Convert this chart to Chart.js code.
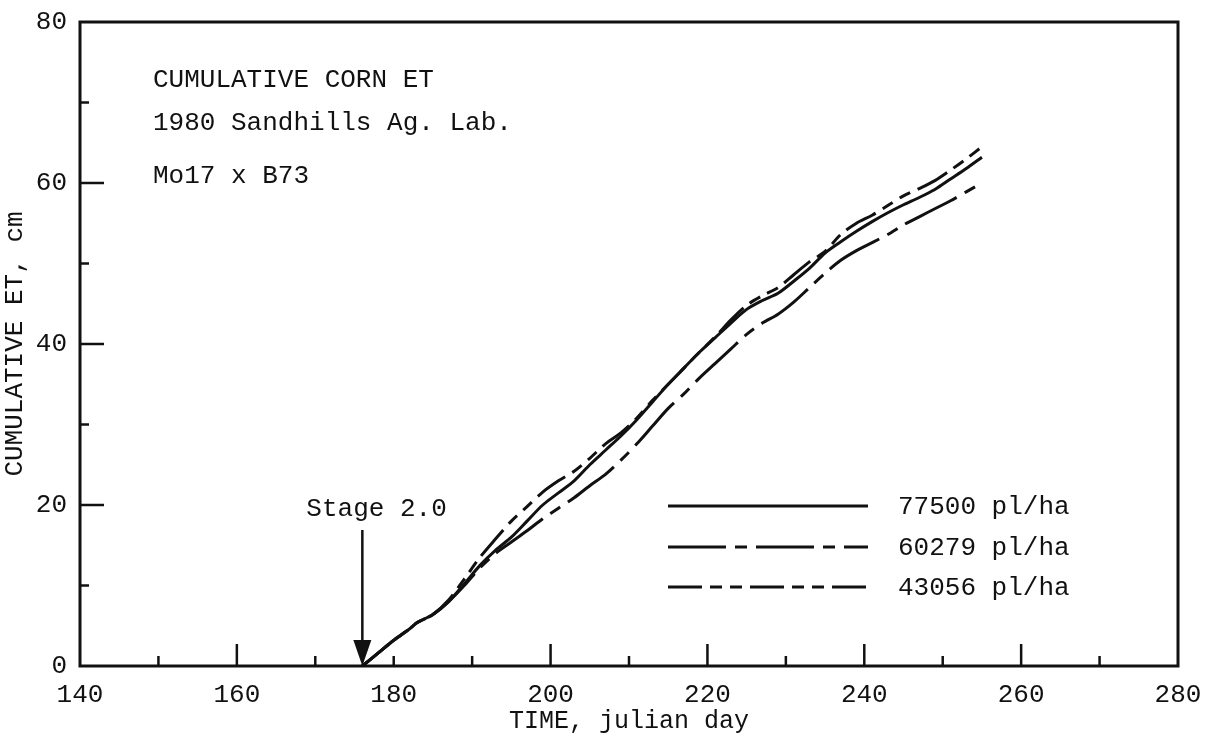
<!DOCTYPE html>
<html>
<head>
<meta charset="utf-8">
<title>Cumulative corn ET</title>
<script src="https://cdn.jsdelivr.net/npm/chart.js@4.4.1/dist/chart.umd.min.js"></script>
<style>
  html, body { margin: 0; padding: 0; background: #fff; }
  #chart-container { position: relative; width: 1212px; height: 750px; }
</style>
</head>
<body>
<div id="chart-container"><canvas id="etChart"></canvas></div>
<script>
// Julian days
const days = [176, 178, 180, 182, 183, 185, 187, 189, 191, 193, 195, 197, 199, 201, 203, 205, 207, 209, 211, 213, 215,
              217, 219, 221, 223, 225, 227, 229, 231, 233, 235, 237, 239, 241, 243, 245, 247, 249, 251, 253, 255];

// Cumulative ET (cm) for each plant population
const et77500 = [0, 1.6, 3.2, 4.6, 5.4, 6.4, 8.0, 10.2, 12.5, 14.4, 16.0, 18.0, 20.0, 21.5, 23.0, 25.0, 26.8, 28.6, 30.6, 32.8, 35.0,
                 37.0, 39.0, 40.8, 42.6, 44.3, 45.4, 46.3, 47.8, 49.4, 51.3, 52.7, 54.0, 55.2, 56.3, 57.3, 58.2, 59.2, 60.5, 61.8, 63.2];
const et60279 = [0, 1.6, 3.2, 4.6, 5.4, 6.4, 8.0, 10.0, 12.2, 14.0, 15.4, 16.8, 18.3, 19.6, 20.9, 22.4, 23.8, 25.6, 27.6, 29.8, 32.0,
                 33.8, 35.8, 37.6, 39.4, 41.2, 42.6, 43.7, 45.2, 47.0, 48.8, 50.4, 51.6, 52.6, 53.6, 54.8, 55.8, 56.8, 57.8, 58.9, 60.0];
const et43056 = [0, 1.6, 3.2, 4.6, 5.4, 6.4, 8.2, 10.8, 13.5, 15.8, 18.0, 19.8, 21.6, 23.0, 24.2, 25.8, 27.6, 29.0, 30.8, 33.0, 35.0,
                 37.0, 39.0, 40.9, 43.0, 44.8, 46.0, 47.0, 48.6, 50.2, 51.5, 53.6, 55.0, 56.0, 57.2, 58.4, 59.3, 60.3, 61.6, 63.0, 64.5];

const seriesLabels = ['77500 pl/ha', '60279 pl/ha', '43056 pl/ha'];
const infoLines = ['CUMULATIVE CORN ET', '1980 Sandhills Ag. Lab.', 'Mo17 x B73'];
const stageDay = 176;
const stageLabel = 'Stage 2.0';

const xMajorTicks = [160, 200, 220, 240, 260];
const xMinorTicks = [150, 170, 180, 190, 210, 230, 250, 270];
const yMajorTicks = [20, 40, 60];
const yMinorTicks = [10, 30, 50, 70];

const ink = '#111';
const monoFamily = '"Liberation Mono", monospace';
const textFont = '26px "Liberation Mono", monospace';
const dashes = [[], [58, 9, 12, 9], [34, 8, 12, 8, 12, 8]];

function toPoints(values) {
    return values.map(function(v, i) { return { x: days[i], y: v }; });
}

// Frame, inward ticks, notes, arrow and legend drawn on top of the chart
const paperDecor = {
    id: 'paperDecor',
    afterDraw: function(chart) {
        const c = chart.ctx;
        const area = chart.chartArea;
        const xs = chart.scales.x;
        const ys = chart.scales.y;
        c.save();
        c.strokeStyle = ink;
        c.fillStyle = ink;
        c.lineCap = 'butt';

        // frame
        c.lineWidth = 3;
        c.strokeRect(area.left, area.top, area.right - area.left, area.bottom - area.top);

        // ticks pointing into the plot
        c.lineWidth = 2.5;
        function xTick(d, len) {
            const px = xs.getPixelForValue(d);
            c.beginPath(); c.moveTo(px, area.bottom); c.lineTo(px, area.bottom - len); c.stroke();
        }
        function yTick(v, len) {
            const py = ys.getPixelForValue(v);
            c.beginPath(); c.moveTo(area.left, py); c.lineTo(area.left + len, py); c.stroke();
        }
        xMajorTicks.forEach(function(d) { xTick(d, 22); });
        xMinorTicks.forEach(function(d) { xTick(d, 10); });
        yMajorTicks.forEach(function(v) { yTick(v, 24); });
        yMinorTicks.forEach(function(v) { yTick(v, 9); });

        // notes in upper left
        c.font = textFont;
        c.textAlign = 'left';
        c.textBaseline = 'alphabetic';
        const noteY = [87, 130, 183];
        infoLines.forEach(function(t, i) { c.fillText(t, area.left + 73, noteY[i]); });

        // Stage 2.0 arrow
        const sx = xs.getPixelForValue(stageDay);
        c.lineWidth = 2.5;
        c.beginPath(); c.moveTo(sx, 530); c.lineTo(sx, area.bottom - 20); c.stroke();
        c.beginPath();
        c.moveTo(sx - 9, area.bottom - 26);
        c.lineTo(sx + 9, area.bottom - 26);
        c.lineTo(sx, area.bottom);
        c.closePath();
        c.fill();
        c.fillText(stageLabel, sx - 56, 516);

        // legend
        const rowY = [506, 547, 587];
        seriesLabels.forEach(function(label, i) {
            c.lineWidth = 3;
            c.setLineDash(dashes[i]);
            c.beginPath(); c.moveTo(668, rowY[i]); c.lineTo(868, rowY[i]); c.stroke();
            c.setLineDash([]);
            c.textBaseline = 'middle';
            c.fillText(label, 898, rowY[i] + 1);
        });
        c.restore();
    }
};

document.addEventListener('DOMContentLoaded', function() {
    const ctx = document.getElementById('etChart');

    new Chart(ctx, {
        type: 'line',
        data: {
            datasets: [et77500, et60279, et43056].map(function(vals, i) {
                return {
                    label: seriesLabels[i],
                    data: toPoints(vals),
                    borderColor: ink,
                    borderWidth: 3,
                    borderDash: dashes[i],
                    pointRadius: 0,
                    tension: 0.3,
                    fill: false
                };
            })
        },
        options: {
            responsive: true,
            maintainAspectRatio: false,
            animation: false,
            layout: { padding: { left: 0, right: 34, top: 22, bottom: 0 } },
            plugins: {
                legend: { display: false },
                tooltip: { enabled: false }
            },
            scales: {
                x: {
                    type: 'linear',
                    min: 140,
                    max: 280,
                    grid: { display: false },
                    border: { display: false },
                    ticks: {
                        stepSize: 20,
                        padding: 6,
                        color: ink,
                        font: { family: monoFamily, size: 26 }
                    },
                    title: {
                        display: true,
                        text: 'TIME, julian day',
                        color: ink,
                        font: { family: monoFamily, size: 25 },
                        padding: { top: 0, bottom: 14 }
                    },
                    afterFit: function(scale) { scale.height = 84; }
                },
                y: {
                    min: 0,
                    max: 80,
                    grid: { display: false },
                    border: { display: false },
                    ticks: {
                        stepSize: 20,
                        padding: 5,
                        color: ink,
                        font: { family: monoFamily, size: 26 }
                    },
                    title: {
                        display: true,
                        text: 'CUMULATIVE ET, cm',
                        color: ink,
                        font: { family: monoFamily, size: 26 },
                        padding: { top: 0, bottom: 0 }
                    },
                    afterFit: function(scale) { scale.width = 80; }
                }
            }
        },
        plugins: [paperDecor]
    });
});
</script>
</body>
</html>
